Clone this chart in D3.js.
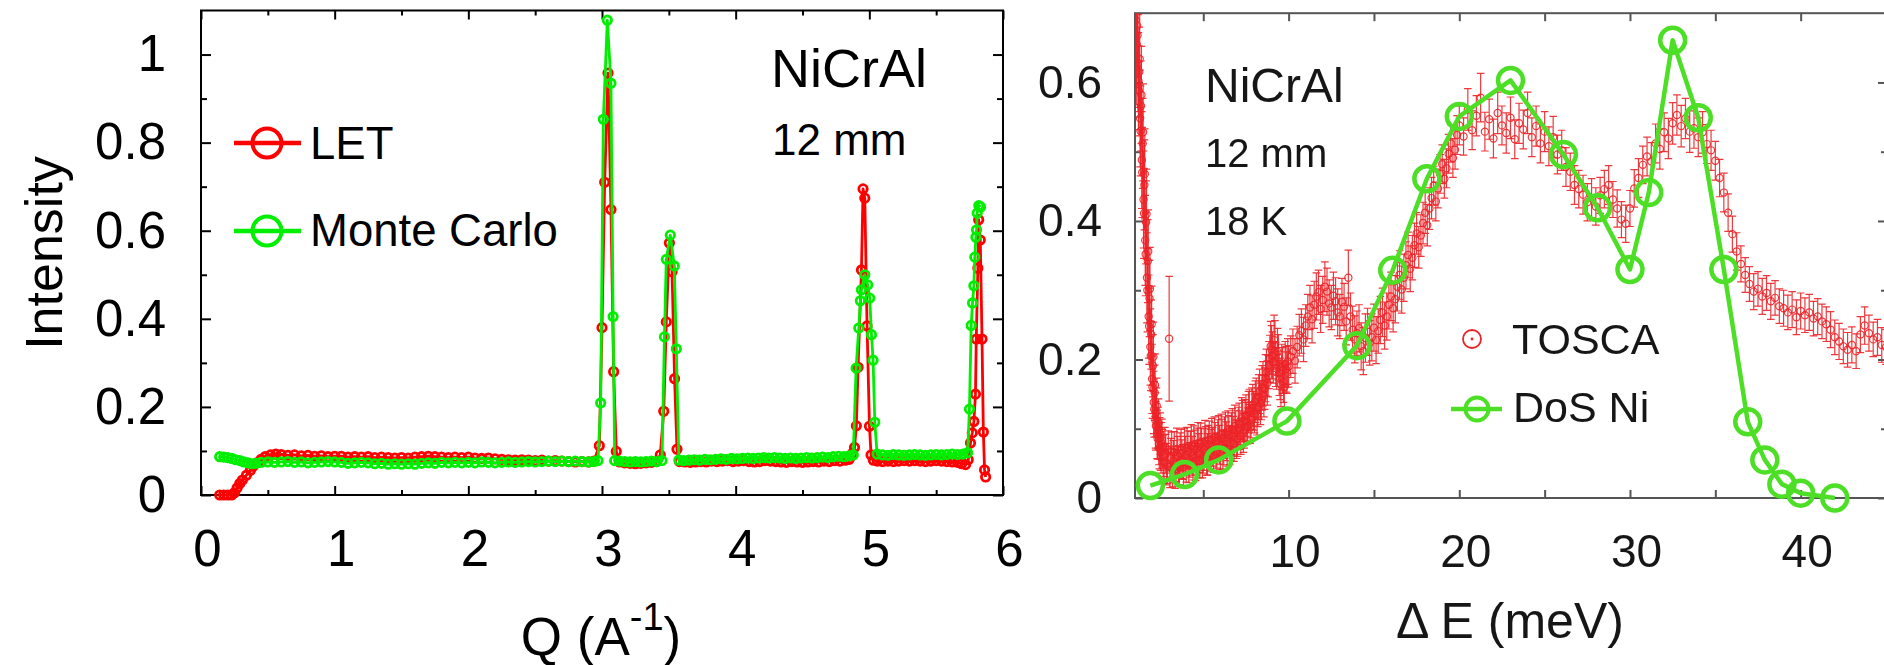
<!DOCTYPE html>
<html lang="en">
<head>
<meta charset="UTF-8">
<title>NiCrAl: LET vs Monte Carlo, TOSCA vs DoS</title>
<script src="https://d3js.org/d3.v7.min.js"></script>
<style>
  body { margin: 0; background: #fff; }
  svg { display: block; font-family: "Liberation Sans", Arial, Helvetica, sans-serif; }
</style>
</head>
<body>
<div id="chart"></div>
<script>
// ---------- data ----------
// left panel: [Q, intensity]
const letPoints = [[0.14,0],[0.17,0],[0.20,0],[0.23,0],[0.25,0.005],[0.27,0.016],[0.29,0.026],[0.31,0.034],[0.34,0.045],[0.37,0.056],[0.39,0.065],[0.42,0.073],[0.45,0.081],[0.48,0.087],[0.52,0.091],[0.56,0.093],[0.60,0.092],[0.65,0.090],[0.70,0.091],[0.75,0.089],[0.80,0.090],[0.85,0.088],[0.90,0.089],[0.95,0.087],[1.00,0.088],[1.05,0.088],[1.10,0.086],[1.15,0.087],[1.20,0.086],[1.25,0.087],[1.30,0.085],[1.35,0.086],[1.40,0.085],[1.45,0.084],[1.50,0.085],[1.55,0.084],[1.60,0.086],[1.65,0.087],[1.70,0.088],[1.75,0.087],[1.80,0.086],[1.85,0.085],[1.90,0.086],[1.95,0.085],[2.00,0.086],[2.05,0.084],[2.10,0.083],[2.15,0.084],[2.20,0.082],[2.25,0.081],[2.30,0.080],[2.35,0.079],[2.40,0.080],[2.45,0.079],[2.50,0.078],[2.55,0.079],[2.60,0.077],[2.65,0.078],[2.70,0.077],[2.75,0.076],[2.80,0.075],[2.85,0.076],[2.90,0.075],[2.94,0.077],[2.98,0.112],[3.00,0.38],[3.02,0.71],[3.045,0.958],[3.067,0.648],[3.087,0.28],[3.107,0.099],[3.13,0.075],[3.17,0.073],[3.21,0.072],[3.25,0.071],[3.29,0.072],[3.33,0.073],[3.37,0.074],[3.41,0.076],[3.436,0.091],[3.462,0.19],[3.481,0.393],[3.504,0.572],[3.524,0.507],[3.543,0.264],[3.561,0.104],[3.58,0.076],[3.62,0.075],[3.66,0.074],[3.70,0.075],[3.74,0.076],[3.78,0.075],[3.82,0.077],[3.86,0.076],[3.90,0.077],[3.94,0.078],[3.98,0.076],[4.02,0.077],[4.06,0.078],[4.10,0.076],[4.14,0.075],[4.18,0.076],[4.22,0.078],[4.26,0.077],[4.30,0.076],[4.34,0.075],[4.38,0.074],[4.42,0.076],[4.46,0.075],[4.50,0.074],[4.54,0.075],[4.58,0.076],[4.62,0.075],[4.66,0.077],[4.70,0.076],[4.74,0.078],[4.78,0.077],[4.82,0.079],[4.85,0.081],[4.875,0.095],[4.889,0.108],[4.903,0.157],[4.916,0.29],[4.941,0.511],[4.953,0.695],[4.966,0.674],[4.983,0.384],[5.001,0.156],[5.013,0.091],[5.03,0.079],[5.06,0.077],[5.10,0.076],[5.14,0.077],[5.18,0.076],[5.22,0.077],[5.26,0.078],[5.30,0.077],[5.34,0.078],[5.38,0.077],[5.42,0.076],[5.46,0.077],[5.50,0.078],[5.54,0.077],[5.58,0.076],[5.62,0.075],[5.66,0.074],[5.69,0.071],[5.72,0.069],[5.74,0.080],[5.757,0.118],[5.77,0.141],[5.782,0.167],[5.794,0.229],[5.80,0.354],[5.812,0.515],[5.818,0.625],[5.83,0.579],[5.843,0.354],[5.853,0.143],[5.862,0.057],[5.87,0.041]];

const monteCarloPoints = [[0.14,0.087],[0.17,0.086],[0.20,0.085],[0.23,0.083],[0.26,0.080],[0.29,0.078],[0.32,0.075],[0.35,0.073],[0.38,0.071],[0.41,0.072],[0.45,0.074],[0.50,0.075],[0.55,0.074],[0.60,0.075],[0.65,0.076],[0.70,0.074],[0.75,0.075],[0.80,0.073],[0.85,0.074],[0.90,0.075],[0.95,0.076],[1.00,0.075],[1.05,0.074],[1.10,0.072],[1.15,0.073],[1.20,0.074],[1.25,0.073],[1.30,0.071],[1.35,0.072],[1.40,0.070],[1.45,0.071],[1.50,0.070],[1.55,0.071],[1.60,0.070],[1.65,0.072],[1.70,0.073],[1.75,0.072],[1.80,0.074],[1.85,0.073],[1.90,0.074],[1.95,0.073],[2.00,0.074],[2.05,0.073],[2.10,0.075],[2.15,0.074],[2.20,0.073],[2.25,0.074],[2.30,0.075],[2.35,0.074],[2.40,0.075],[2.45,0.076],[2.50,0.075],[2.55,0.076],[2.60,0.077],[2.65,0.076],[2.70,0.077],[2.75,0.076],[2.80,0.077],[2.85,0.076],[2.90,0.075],[2.94,0.076],[2.97,0.078],[2.99,0.209],[3.01,0.853],[3.04,1.078],[3.067,0.935],[3.083,0.405],[3.095,0.078],[3.13,0.077],[3.17,0.076],[3.21,0.075],[3.25,0.076],[3.29,0.075],[3.33,0.076],[3.37,0.077],[3.41,0.076],[3.449,0.078],[3.467,0.359],[3.481,0.535],[3.511,0.59],[3.541,0.52],[3.556,0.332],[3.575,0.079],[3.61,0.078],[3.65,0.079],[3.69,0.080],[3.73,0.079],[3.77,0.081],[3.81,0.080],[3.85,0.081],[3.89,0.082],[3.93,0.081],[3.97,0.083],[4.01,0.082],[4.05,0.083],[4.09,0.084],[4.13,0.083],[4.17,0.084],[4.21,0.085],[4.25,0.084],[4.29,0.085],[4.33,0.084],[4.37,0.083],[4.41,0.084],[4.45,0.083],[4.49,0.084],[4.53,0.085],[4.57,0.084],[4.61,0.085],[4.65,0.086],[4.69,0.085],[4.73,0.087],[4.77,0.088],[4.81,0.087],[4.85,0.089],[4.88,0.091],[4.901,0.288],[4.921,0.379],[4.933,0.441],[4.941,0.466],[4.966,0.5],[4.988,0.477],[5.003,0.447],[5.016,0.364],[5.028,0.306],[5.041,0.165],[5.058,0.093],[5.10,0.091],[5.14,0.090],[5.18,0.092],[5.22,0.091],[5.26,0.090],[5.30,0.091],[5.34,0.092],[5.38,0.091],[5.42,0.090],[5.46,0.091],[5.50,0.092],[5.54,0.091],[5.58,0.092],[5.62,0.093],[5.66,0.092],[5.70,0.093],[5.735,0.096],[5.749,0.195],[5.762,0.385],[5.772,0.436],[5.782,0.475],[5.789,0.54],[5.797,0.585],[5.802,0.602],[5.807,0.64],[5.819,0.657],[5.832,0.654]];

// right panel: TOSCA [energy transfer, intensity, error]
const toscaPoints = [
  [1.05,0.690,0.06],[1.10,0.655,0.07],[1.15,0.668,0.06],[1.20,0.602,0.07],[1.25,0.615,0.065],[1.30,0.548,0.07],[1.35,0.566,0.065],[1.40,0.488,0.07],[1.45,0.512,0.065],[1.50,0.431,0.07],[1.55,0.452,0.065],[1.60,0.372,0.065],[1.65,0.398,0.06],[1.70,0.318,0.065],[1.75,0.342,0.06],[1.80,0.262,0.06],[1.85,0.288,0.055],[1.90,0.218,0.055],[1.95,0.236,0.05],[2.00,0.172,0.05],[2.05,0.191,0.045],[2.10,0.138,0.045],[2.15,0.152,0.04],[2.20,0.112,0.04],[2.25,0.124,0.035],[2.30,0.092,0.035],[2.35,0.101,0.03],[2.40,0.078,0.03],[2.45,0.086,0.03],[2.50,0.070,0.03],[2.55,0.079,0.03],
  [1.075,0.638,0.07],[1.125,0.682,0.06],[1.175,0.628,0.07],[1.225,0.588,0.065],[1.275,0.634,0.07],[1.325,0.530,0.065],[1.375,0.582,0.07],[1.425,0.470,0.065],[1.475,0.528,0.07],[1.525,0.411,0.065],[1.575,0.468,0.065],[1.625,0.352,0.06],[1.675,0.410,0.065],[1.725,0.300,0.06],[1.775,0.356,0.06],[1.825,0.248,0.055],[1.875,0.302,0.06],[1.925,0.205,0.05],[1.975,0.251,0.055],[2.025,0.160,0.045],[2.075,0.204,0.05],[2.125,0.128,0.04],[2.175,0.163,0.045],[2.225,0.104,0.035],[2.275,0.133,0.04],[2.325,0.086,0.03],[2.375,0.108,0.035],[2.425,0.072,0.03],[2.475,0.093,0.03],[2.525,0.066,0.03],[2.575,0.084,0.03],
  [2.6,0.071,0.028],[2.7,0.052,0.025],[2.8,0.064,0.028],[2.9,0.046,0.025],[3.0,0.230,0.09],[3.1,0.058,0.028],[3.2,0.041,0.025],[3.3,0.066,0.03],[3.4,0.049,0.025],[3.5,0.061,0.028],[3.6,0.044,0.025],[3.7,0.069,0.03],[3.8,0.052,0.025],[3.9,0.073,0.028],[4.0,0.048,0.025],[4.1,0.067,0.03],[4.2,0.055,0.025],[4.3,0.076,0.03],[4.4,0.051,0.025],[4.5,0.070,0.028],[4.6,0.058,0.025],[4.7,0.079,0.03],[4.8,0.054,0.025],[4.9,0.073,0.028],[5.0,0.061,0.025],[5.1,0.082,0.03],[5.2,0.058,0.025],[5.3,0.077,0.028],[5.4,0.064,0.025],[5.5,0.085,0.03],[5.6,0.062,0.025],[5.7,0.081,0.028],[5.8,0.068,0.025],[5.9,0.089,0.03],[6.0,0.066,0.025],[6.1,0.086,0.028],[6.2,0.073,0.025],[6.3,0.094,0.03],[6.4,0.071,0.025],[6.5,0.091,0.028],[6.6,0.079,0.025],[6.7,0.099,0.03],[6.8,0.078,0.025],[6.9,0.098,0.028],[7.0,0.086,0.026],[7.1,0.107,0.03],[7.2,0.089,0.026],[7.3,0.111,0.03],[7.4,0.098,0.026],[7.5,0.119,0.03],[7.6,0.104,0.026],[7.7,0.127,0.03],[7.8,0.113,0.026],[7.9,0.134,0.03],[8.0,0.122,0.028],[8.1,0.143,0.03],[8.2,0.131,0.028],[8.3,0.154,0.032],[8.4,0.141,0.028],[8.5,0.165,0.032],[8.6,0.158,0.03],[8.7,0.181,0.034],[8.8,0.176,0.03],[8.9,0.201,0.034],[9.0,0.214,0.035],[9.1,0.196,0.03],[9.2,0.221,0.035],[9.3,0.187,0.03],[9.4,0.203,0.033],[9.5,0.172,0.03],[9.6,0.189,0.033],[9.7,0.168,0.03],[9.8,0.193,0.033],[9.9,0.181,0.03],
  [2.65,0.061,0.03],[2.75,0.074,0.028],[2.85,0.049,0.03],[2.95,0.069,0.028],[3.05,0.045,0.03],[3.15,0.067,0.028],[3.25,0.053,0.03],[3.35,0.042,0.028],[3.45,0.071,0.03],[3.55,0.047,0.028],[3.65,0.064,0.03],[3.75,0.056,0.028],[3.85,0.045,0.03],[3.95,0.061,0.028],[4.05,0.072,0.03],[4.15,0.050,0.028],[4.25,0.066,0.03],[4.35,0.061,0.028],[4.45,0.074,0.03],[4.55,0.053,0.028],[4.65,0.071,0.03],[4.75,0.065,0.028],[4.85,0.078,0.03],[4.95,0.057,0.028],[5.05,0.070,0.03],[5.15,0.075,0.028],[5.25,0.063,0.03],[5.35,0.083,0.028],[5.45,0.069,0.03],[5.55,0.074,0.028],[5.65,0.087,0.03],[5.75,0.066,0.028],[5.85,0.083,0.03],[5.95,0.077,0.028],[6.05,0.091,0.03],[6.15,0.070,0.028],[6.25,0.087,0.03],[6.35,0.082,0.028],[6.45,0.096,0.03],[6.55,0.076,0.028],[6.65,0.093,0.03],[6.75,0.090,0.028],[6.85,0.104,0.03],[6.95,0.085,0.028],[7.05,0.101,0.03],[7.15,0.098,0.028],[7.25,0.115,0.03],[7.35,0.094,0.028],[7.45,0.112,0.03],[7.55,0.110,0.028],[7.65,0.124,0.03],[7.75,0.107,0.028],[7.85,0.129,0.03],[7.95,0.126,0.028],[8.05,0.139,0.03],[8.15,0.121,0.03],[8.25,0.146,0.032],[8.35,0.136,0.03],[8.45,0.159,0.032],[8.55,0.147,0.03],[8.65,0.173,0.034],[8.75,0.166,0.032],[8.85,0.192,0.034],[8.95,0.219,0.036],[9.05,0.206,0.034],[9.15,0.228,0.036],[9.25,0.193,0.032],[9.35,0.211,0.034],[9.45,0.180,0.032],[9.55,0.164,0.032],[9.65,0.184,0.033],[9.75,0.160,0.032],[9.85,0.186,0.033],[9.95,0.197,0.033],
  [10.00,0.190,0.03],[10.25,0.212,0.032],[10.50,0.218,0.03],[10.75,0.241,0.032],[11.00,0.249,0.03],[11.25,0.275,0.032],[11.50,0.279,0.034],[11.75,0.297,0.032],[12.00,0.286,0.034],[12.25,0.298,0.034],[12.50,0.275,0.032],[12.75,0.284,0.034],[13.00,0.262,0.032],[13.25,0.276,0.034],[13.50,0.318,0.04],[13.75,0.243,0.034],[14.00,0.238,0.032],[14.25,0.219,0.034],[14.50,0.231,0.035],[14.75,0.224,0.032],[15.00,0.246,0.034],[15.25,0.241,0.032],[15.50,0.268,0.035],[15.75,0.262,0.034],[16.00,0.291,0.035],[16.25,0.287,0.034],[16.50,0.322,0.035],[16.75,0.318,0.034],[17.00,0.351,0.033],[17.25,0.347,0.032],[17.50,0.382,0.03],[17.75,0.379,0.03],[18.00,0.412,0.03],[18.25,0.418,0.03],[18.50,0.451,0.028],[18.75,0.447,0.028],[19.00,0.482,0.028],[19.25,0.476,0.028],[19.50,0.512,0.027],[19.75,0.503,0.028],
  [10.125,0.204,0.03],[10.375,0.198,0.032],[10.625,0.235,0.03],[10.875,0.229,0.032],[11.125,0.262,0.032],[11.375,0.258,0.034],[11.625,0.291,0.034],[11.875,0.273,0.034],[12.125,0.305,0.036],[12.375,0.281,0.034],[12.625,0.292,0.034],[12.875,0.268,0.034],[13.125,0.283,0.034],[13.375,0.255,0.034],[13.625,0.262,0.034],[13.875,0.229,0.034],[14.125,0.245,0.034],[14.375,0.212,0.034],[14.625,0.240,0.034],[14.875,0.232,0.034],[15.125,0.228,0.034],[15.375,0.257,0.034],[15.625,0.249,0.034],[15.875,0.279,0.035],[16.125,0.274,0.034],[16.375,0.305,0.035],[16.625,0.301,0.034],[16.875,0.336,0.034],[17.125,0.331,0.033],[17.375,0.365,0.032],[17.625,0.362,0.03],[17.875,0.397,0.03],[18.125,0.394,0.03],[18.375,0.433,0.03],[18.625,0.428,0.028],[18.875,0.468,0.028],[19.125,0.461,0.028],[19.375,0.497,0.028],[19.625,0.491,0.028],[19.875,0.524,0.028],
  [20.00,0.538,0.028],[20.25,0.522,0.027],[20.50,0.561,0.03],[20.75,0.531,0.028],[21.00,0.552,0.029],[21.25,0.578,0.035],[21.50,0.529,0.028],[21.75,0.547,0.029],[22.00,0.519,0.028],[22.25,0.556,0.03],[22.50,0.538,0.028],[22.75,0.527,0.029],[23.00,0.549,0.03],[23.25,0.518,0.028],[23.50,0.541,0.029],[23.75,0.532,0.028],[24.00,0.556,0.03],[24.25,0.521,0.028],[24.50,0.537,0.029],[24.75,0.512,0.028],[25.00,0.529,0.029],[25.25,0.508,0.028],[25.50,0.521,0.03],[25.75,0.496,0.028],[26.00,0.502,0.029],[26.25,0.478,0.028],[26.50,0.471,0.027],[26.75,0.452,0.028],[27.00,0.446,0.027],[27.25,0.438,0.028],[27.50,0.427,0.027],[27.75,0.433,0.028],[28.00,0.421,0.027],[28.25,0.437,0.026],[28.50,0.446,0.027],[28.75,0.452,0.028],[29.00,0.431,0.026],[29.25,0.418,0.027],[29.50,0.402,0.026],[29.75,0.396,0.027],[30.00,0.418,0.026],[30.25,0.447,0.027],[30.50,0.462,0.028],[30.75,0.481,0.027],[31.00,0.493,0.028],[31.25,0.486,0.027],[31.50,0.512,0.028],[31.75,0.504,0.029],[32.00,0.528,0.028],[32.25,0.519,0.029],[32.50,0.541,0.03],[32.75,0.553,0.029],[33.00,0.537,0.03],[33.25,0.548,0.029],[33.50,0.529,0.03],[33.75,0.534,0.029],[34.00,0.521,0.028],[34.25,0.528,0.03],[34.50,0.511,0.028],[34.75,0.502,0.029],[35.00,0.487,0.028],[35.25,0.462,0.027],[35.50,0.441,0.028],[35.75,0.412,0.027],[36.00,0.381,0.026],[36.25,0.356,0.027],[36.50,0.338,0.026],[36.75,0.322,0.025],[37.00,0.309,0.025],[37.25,0.298,0.026],[37.50,0.302,0.025],[37.75,0.291,0.026],[38.00,0.296,0.025],[38.25,0.284,0.026],[38.50,0.289,0.025],[38.75,0.277,0.025],[39.00,0.274,0.026],[39.25,0.268,0.025],[39.50,0.272,0.026],[39.75,0.261,0.025],[40.00,0.270,0.026],[40.25,0.264,0.025],[40.50,0.268,0.026],[40.75,0.259,0.025],[41.00,0.262,0.026],[41.25,0.255,0.025],[41.50,0.251,0.025],[41.75,0.243,0.026],[42.00,0.232,0.025],[42.25,0.226,0.026],[42.50,0.219,0.025],[42.75,0.214,0.025],[43.00,0.221,0.026],[43.25,0.212,0.025],[43.50,0.236,0.026],[43.75,0.249,0.027],[44.00,0.238,0.026],[44.25,0.229,0.025],[44.50,0.232,0.026],[44.75,0.221,0.025],[45.00,0.218,0.025]
];

// right panel: DoS Ni [energy transfer, intensity]
const dosNiPoints = [[1.9,0.018],[3.9,0.034],[5.9,0.055],[9.9,0.111],[14.0,0.22],[16.1,0.329],[18.1,0.461],[20.0,0.551],[23.0,0.603],[26.1,0.496],[28.1,0.419],[30.0,0.33],[31.1,0.441],[32.5,0.661],[34.0,0.549],[35.5,0.33],[36.9,0.11],[37.9,0.055],[38.9,0.02],[40.0,0.007],[42.0,0.0]];

const leftXTicks = [0, 1, 2, 3, 4, 5, 6];
const leftXMinor = [0.5, 1.5, 2.5, 3.5, 4.5, 5.5];
const leftYTicks = [0, 0.2, 0.4, 0.6, 0.8, 1];
const leftYMinor = [0.1, 0.3, 0.5, 0.7, 0.9];
const rightXTicks = [10, 20, 30, 40];
const rightXMinor = [5, 15, 25, 35];
const rightYTicks = [0, 0.2, 0.4, 0.6];
const rightYMinor = [0.1, 0.3, 0.5];

// ---------- chart ----------
const W = 1884, H = 665;
const svg = d3.select("#chart").append("svg").attr("width", W).attr("height", H);

const defs = svg.append("defs");
defs.append("filter").attr("id", "soft")
    .attr("filterUnits", "userSpaceOnUse")
    .attr("x", 1000).attr("y", 0).attr("width", 900).attr("height", 665)
  .append("feGaussianBlur").attr("stdDeviation", 0.55);
defs.append("clipPath").attr("id", "rightClip")
  .append("rect").attr("x", 1135).attr("y", 13.2).attr("width", 752).attr("height", 485);

const fmt = d => String(+d.toFixed(1));

// one axis layer: ticks drawn inward, optional labels
function axisLayer(g, axisFn, scale, vals, size, transform, color, label) {
    const a = axisFn(scale).tickValues(vals).tickSize(size).tickSizeOuter(0);
    if (label) a.tickPadding(label.pad).tickFormat(fmt);
    else a.tickFormat("");
    const s = g.append("g").attr("transform", transform).call(a)
        .attr("color", color).attr("font-family", null);
    s.select(".domain").remove();
    s.selectAll(".tick line").attr("stroke-width", 2);
    if (label) {
        s.attr("font-size", label.fs);
        s.selectAll("text").attr("fill", label.fill || color).attr("dx", label.dx || 0);
    }
    return s;
}

function frame(g, x, y, color, width) {
    const [x0, x1] = x.range(), [y0, y1] = y.range();
    g.append("rect").attr("x", x0).attr("y", y1)
        .attr("width", x1 - x0).attr("height", y0 - y1)
        .attr("fill", "none").attr("stroke", color).attr("stroke-width", width);
}

// ----- left panel -----
const xL = d3.scaleLinear().domain([0, 6]).range([201, 1003]);
const yL = d3.scaleLinear().domain([0, 1.1]).range([495, 10.5]);
const gL = svg.append("g");

const [lx0, lx1] = xL.range(), [ly0, ly1] = yL.range();
axisLayer(gL, d3.axisBottom, xL, leftXTicks, -9, `translate(0,${ly0})`, "#000", {pad: 35, fs: 51, dx: 6});
axisLayer(gL, d3.axisBottom, xL, leftXMinor, -5, `translate(0,${ly0})`, "#000");
axisLayer(gL, d3.axisTop, xL, leftXTicks, -9, `translate(0,${ly1})`, "#000");
axisLayer(gL, d3.axisTop, xL, leftXMinor, -5, `translate(0,${ly1})`, "#000");
axisLayer(gL, d3.axisLeft, yL, leftYTicks, -10, `translate(${lx0},0)`, "#000", {pad: 35, fs: 51});
axisLayer(gL, d3.axisLeft, yL, leftYMinor, -6, `translate(${lx0},0)`, "#000");
axisLayer(gL, d3.axisRight, yL, leftYTicks, -10, `translate(${lx1},0)`, "#000");
axisLayer(gL, d3.axisRight, yL, leftYMinor, -6, `translate(${lx1},0)`, "#000");
frame(gL, xL, yL, "#000", 2);

const redL = "#ff0000", greenL = "#00ee00";
const lineL = d3.line().x(d => xL(d[0])).y(d => yL(d[1]));

function series(points, color) {
    gL.append("path").datum(points).attr("d", lineL)
        .attr("fill", "none").attr("stroke", color).attr("stroke-width", 2.8)
        .attr("stroke-linejoin", "round");
    gL.append("g").selectAll("circle").data(points).join("circle")
        .attr("cx", d => xL(d[0])).attr("cy", d => yL(d[1])).attr("r", 4.2)
        .attr("fill", "none").attr("stroke", color).attr("stroke-width", 2.8);
}
series(letPoints, redL);
series(monteCarloPoints, greenL);

// legend
[["LET", redL, 143, 159], ["Monte Carlo", greenL, 231, 246]].forEach(([name, c, cy, by]) => {
    gL.append("line").attr("x1", 234).attr("x2", 301).attr("y1", cy).attr("y2", cy)
        .attr("stroke", c).attr("stroke-width", 4.5);
    gL.append("circle").attr("cx", 267).attr("cy", cy).attr("r", 14.5)
        .attr("fill", "none").attr("stroke", c).attr("stroke-width", 4);
    gL.append("text").attr("x", 310).attr("y", by).attr("font-size", 45.5).text(name);
});

gL.append("text").attr("x", 771).attr("y", 87).attr("font-size", 54).text("NiCrAl");
gL.append("text").attr("x", 772).attr("y", 155).attr("font-size", 44).text("12 mm");

gL.append("text").attr("transform", "translate(62,253) rotate(-90)")
    .attr("text-anchor", "middle").attr("font-size", 52).text("Intensity");

const qLabel = gL.append("text").attr("x", 601).attr("y", 655)
    .attr("text-anchor", "middle").attr("font-size", 53);
qLabel.append("tspan").text("Q (A");
qLabel.append("tspan").attr("font-size", 38).attr("dy", -25).text("-1");
qLabel.append("tspan").attr("dy", 25).text(")");

// ----- right panel -----
const xR = d3.scaleLinear().domain([1, 45]).range([1135, 1886]);
const yR = d3.scaleLinear().domain([0, 0.7]).range([498, 13.2]);
const gR = svg.append("g").attr("filter", "url(#soft)");
const axisGrey = "#555", textDark = "#161616";

const [rx0, rx1] = xR.range(), [ry0, ry1] = yR.range();
axisLayer(gR, d3.axisBottom, xR, rightXTicks, -8, `translate(0,${ry0})`, axisGrey, {pad: 36, fs: 46, dx: 6, fill: textDark});
axisLayer(gR, d3.axisBottom, xR, rightXMinor, -8, `translate(0,${ry0})`, axisGrey);
axisLayer(gR, d3.axisTop, xR, rightXTicks.concat(rightXMinor), -8, `translate(0,${ry1})`, axisGrey);
axisLayer(gR, d3.axisLeft, yR, rightYTicks, -8, `translate(${rx0},0)`, axisGrey, {pad: 33, fs: 46, fill: textDark});
axisLayer(gR, d3.axisLeft, yR, rightYMinor, -6, `translate(${rx0},0)`, axisGrey);
axisLayer(gR, d3.axisRight, yR, rightYTicks, -8, `translate(${rx1},0)`, axisGrey);
axisLayer(gR, d3.axisRight, yR, rightYMinor, -5, `translate(${rx1},0)`, axisGrey);
frame(gR, xR, yR, axisGrey, 2);

const redR = "#ec2428", greenR = "#4ddf28";

// TOSCA with error bars
const tosca = gR.append("g").attr("clip-path", "url(#rightClip)")
    .attr("stroke", redR).attr("fill", "none").attr("stroke-opacity", 0.9);
const pts = tosca.selectAll("g").data(toscaPoints).join("g");
pts.append("line")
    .attr("x1", d => xR(d[0])).attr("x2", d => xR(d[0]))
    .attr("y1", d => yR(d[1] - d[2])).attr("y2", d => yR(d[1] + d[2]))
    .attr("stroke-width", 1.2);
pts.append("path")
    .attr("d", d => {
        const x = xR(d[0]), lo = yR(d[1] - d[2]), hi = yR(d[1] + d[2]);
        return `M${x - 3.8},${lo}H${x + 3.8}M${x - 3.8},${hi}H${x + 3.8}`;
    })
    .attr("stroke-width", 1.2);
pts.append("circle")
    .attr("cx", d => xR(d[0])).attr("cy", d => yR(d[1])).attr("r", 3.6)
    .attr("stroke-width", 1.2);

// DoS Ni
const lineR = d3.line().x(d => xR(d[0])).y(d => yR(d[1]));
gR.append("path").datum(dosNiPoints).attr("d", lineR)
    .attr("fill", "none").attr("stroke", greenR).attr("stroke-width", 4.5)
    .attr("stroke-linejoin", "round");
gR.append("g").selectAll("circle").data(dosNiPoints).join("circle")
    .attr("cx", d => xR(d[0])).attr("cy", d => yR(d[1])).attr("r", 12.5)
    .attr("fill", "none").attr("stroke", greenR).attr("stroke-width", 4.5);

// texts
gR.append("text").attr("x", 1205).attr("y", 102).attr("font-size", 48).attr("fill", textDark).text("NiCrAl");
gR.append("text").attr("x", 1205).attr("y", 167).attr("font-size", 40).attr("fill", textDark).text("12 mm");
gR.append("text").attr("x", 1205).attr("y", 235).attr("font-size", 40).attr("fill", textDark).text("18 K");

// legend
gR.append("circle").attr("cx", 1472).attr("cy", 339).attr("r", 9)
    .attr("fill", "none").attr("stroke", redR).attr("stroke-width", 1.8);
gR.append("circle").attr("cx", 1472).attr("cy", 339).attr("r", 1.4).attr("fill", redR);
gR.append("text").attr("x", 1512).attr("y", 354).attr("font-size", 43).attr("fill", textDark).text("TOSCA");
gR.append("line").attr("x1", 1451).attr("x2", 1502).attr("y1", 409).attr("y2", 409)
    .attr("stroke", greenR).attr("stroke-width", 4.5);
gR.append("circle").attr("cx", 1477).attr("cy", 409).attr("r", 11.5)
    .attr("fill", "none").attr("stroke", greenR).attr("stroke-width", 4);
gR.append("text").attr("x", 1513).attr("y", 422).attr("font-size", 43).attr("fill", textDark).text("DoS Ni");

gR.append("text").attr("x", 1510).attr("y", 638).attr("text-anchor", "middle")
    .attr("font-size", 50).attr("fill", textDark).text("Δ E (meV)");
</script>
</body>
</html>
